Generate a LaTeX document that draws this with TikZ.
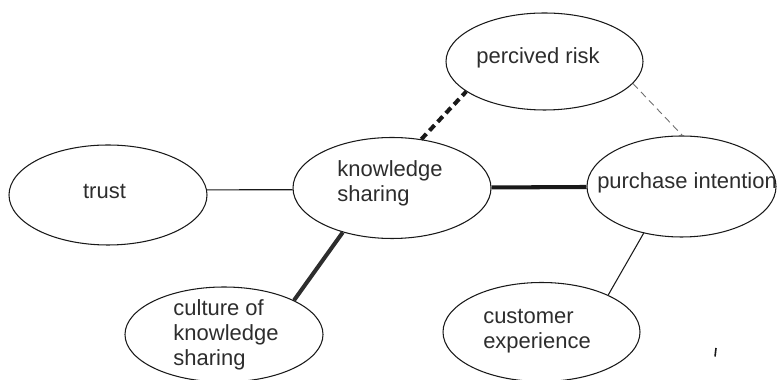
\documentclass[tikz,border=0pt]{standalone}
\usepackage{fontspec}
\setmainfont{Liberation Sans}
\usepackage{xcolor}
\usepackage{tikz}
\usetikzlibrary{shapes.geometric}
\definecolor{inkline}{RGB}{25,25,25}
\definecolor{inktext}{RGB}{45,45,45}
\definecolor{inkgray}{RGB}{110,110,110}

\begin{document}
\begin{tikzpicture}[
    concept/.style={draw=inkline, ellipse, line width=0.6pt, inner sep=0pt,
                    minimum width=3.96cm, minimum height=2cm},
    word/.style={inner sep=0pt, text=inktext, font=\fontsize{12.5}{14.4}\selectfont},
    thinlink/.style={draw=inkline, line width=0.6pt},
    boldlink/.style={draw=inkline, line width=2.3pt}
  ]
    \useasboundingbox (0,0) rectangle (15.54,7.6);

    % Ellipses
    \node[concept] (trust) at (2.16,3.70) {};
    \node[concept, minimum height=2.02cm] (ks) at (7.84,3.84) {};
    \node[concept, minimum width=3.94cm, minimum height=1.94cm] (risk) at (10.89,6.37) {};
    \node[concept, minimum width=3.78cm, minimum height=2.02cm] (intent) at (13.63,3.87) {};
    \node[concept, minimum height=1.9cm] (culture) at (4.48,0.91) {};
    \node[concept, minimum width=3.94cm, minimum height=1.98cm] (exper) at (10.83,0.96) {};

    % Labels
    \node[word] (trust-t) at ([shift={(-0.07,0.06)}]trust.center) {trust};
    \node[word, align=left] (ks-t) at ([shift={(-0.04,0.10)}]ks.center) {knowledge\\sharing};
    \node[word] (risk-t) at ([shift={(-0.13,0.07)}]risk.center) {percived risk};
    \node[word] (intent-t) at ([shift={(0.11,0.07)}]intent.center) {purchase intention};
    \node[word, align=left] (culture-t) at ([shift={(0.04,-0.01)}]culture.center) {culture of\\knowledge\\sharing};
    \node[word, align=left] (exper-t) at ([shift={(-0.09,0.02)}]exper.center) {customer\\experience};

    % Links
    \draw[thinlink] (trust.3) -- (ks.181);
    \draw[boldlink] (ks) -- (intent);
    \draw[boldlink, dash pattern=on 4.2pt off 2.6pt] (ks.59.7) -- (risk.201.8);
    \draw[draw=inkgray, line width=0.5pt, dash pattern=on 4pt off 2.6pt] (risk.-14.5) -- (intent.89);
    \draw[boldlink, draw=inktext] (ks.222.6) -- (culture.26.9);
    \draw[thinlink] (intent.231.8) -- (exper.29.3);

    % stray tick
    \coordinate (tick-a) at (14.32,0.64);
    \coordinate (tick-b) at (14.30,0.47);
    \draw[inkline, line width=0.9pt] (tick-a) -- (tick-b);
\end{tikzpicture}
\end{document}
